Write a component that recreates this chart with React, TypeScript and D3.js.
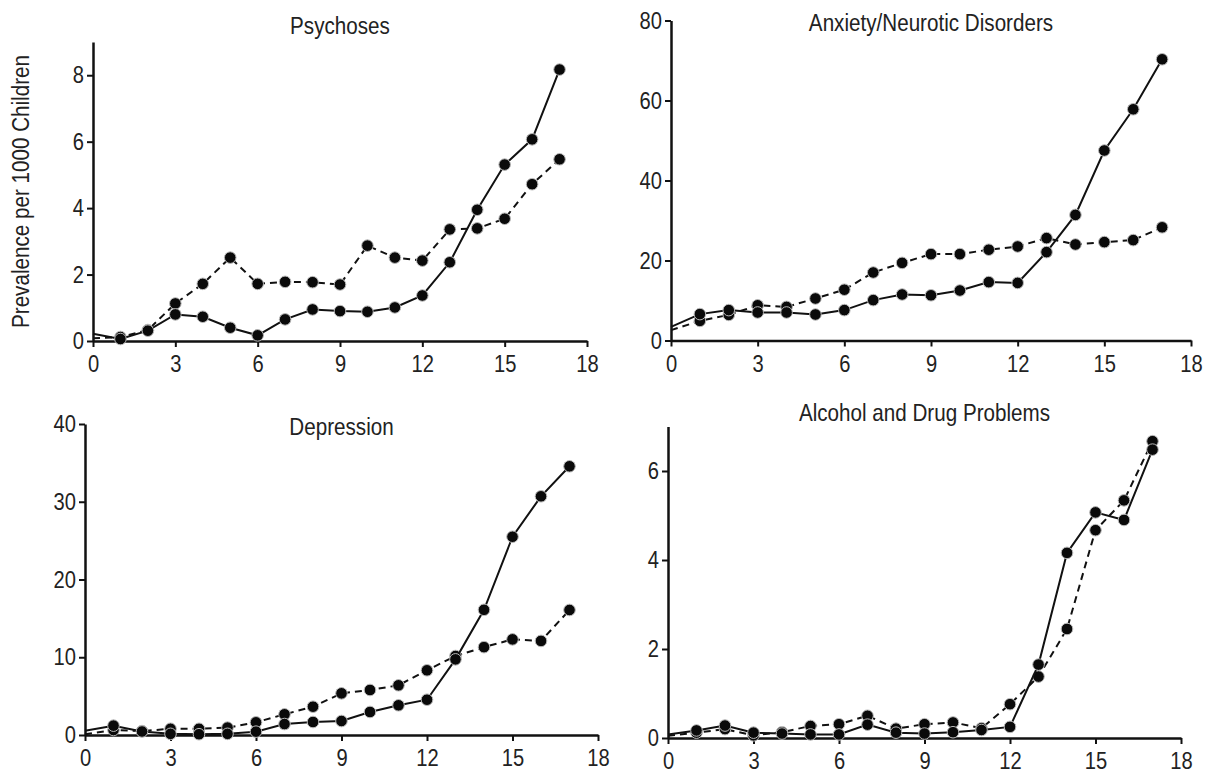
import React, { useRef, useEffect } from 'react';
import * as d3 from 'd3';

// age in years
const ages = [0, 1, 2, 3, 4, 5, 6, 7, 8, 9, 10, 11, 12, 13, 14, 15, 16, 17];
const xTicks = [0, 3, 6, 9, 12, 15, 18];

const psychosesSolid = [0.22, 0.06, 0.31, 0.8, 0.73, 0.4, 0.17, 0.65, 0.95, 0.9, 0.88, 1.01, 1.37, 2.37, 3.95, 5.31, 6.07, 8.17];
const psychosesDashed = [0.08, 0.12, 0.33, 1.13, 1.72, 2.51, 1.72, 1.78, 1.77, 1.7, 2.87, 2.51, 2.42, 3.36, 3.39, 3.68, 4.72, 5.47];
const psychosesTicks = [0, 2, 4, 6, 8];

const anxietySolid = [3.4, 6.6, 7.6, 7.0, 7.0, 6.5, 7.6, 10.1, 11.5, 11.3, 12.5, 14.6, 14.4, 22.1, 31.4, 47.5, 57.8, 70.3];
const anxietyDashed = [2.6, 4.9, 6.4, 8.8, 8.4, 10.5, 12.7, 17.0, 19.4, 21.6, 21.6, 22.7, 23.5, 25.6, 24.0, 24.6, 25.1, 28.3];
const anxietyTicks = [0, 20, 40, 60, 80];

const depressionSolid = [0.55, 1.2, 0.45, 0.15, 0.1, 0.15, 0.43, 1.41, 1.67, 1.8, 2.96, 3.82, 4.54, 9.73, 16.1, 25.5, 30.7, 34.56];
const depressionDashed = [0.1, 0.64, 0.5, 0.8, 0.8, 0.95, 1.63, 2.66, 3.64, 5.36, 5.79, 6.39, 8.32, 10.16, 11.3, 12.3, 12.1, 16.08];
const depressionTicks = [0, 10, 20, 30, 40];

const alcoholSolid = [0.08, 0.17, 0.28, 0.12, 0.1, 0.08, 0.08, 0.3, 0.12, 0.1, 0.13, 0.18, 0.25, 1.65, 4.16, 5.07, 4.9, 6.48];
const alcoholDashed = [0.05, 0.12, 0.2, 0.06, 0.13, 0.27, 0.31, 0.5, 0.21, 0.31, 0.35, 0.22, 0.76, 1.38, 2.45, 4.67, 5.34, 6.67];
const alcoholTicks = [0, 2, 4, 6];

const FONT = '"Liberation Sans", Arial, sans-serif';
const SQUEEZE = 0.84; // the original type is a condensed face

const panels = [
  { title: 'Psychoses', solid: psychosesSolid, dashed: psychosesDashed, ticks: psychosesTicks, yMax: 9,
    left: 93, right: 587, top: 42, bottom: 341, titleY: 34 },
  { title: 'Anxiety/Neurotic Disorders', solid: anxietySolid, dashed: anxietyDashed, ticks: anxietyTicks, yMax: 80,
    left: 671, right: 1191, top: 20.5, bottom: 340.5, titleY: 31 },
  { title: 'Depression', solid: depressionSolid, dashed: depressionDashed, ticks: depressionTicks, yMax: 40,
    left: 85, right: 598, top: 424, bottom: 735, titleY: 435 },
  { title: 'Alcohol and Drug Problems', solid: alcoholSolid, dashed: alcoholDashed, ticks: alcoholTicks, yMax: 7,
    left: 668, right: 1181, top: 426.5, bottom: 738, titleY: 421 },
];

const Chart = () => {
  const ref = useRef<SVGSVGElement>(null);

  useEffect(() => {
    const svg = d3.select(ref.current);
    svg.selectAll('*').remove();

    panels.forEach(p => {
      const x = d3.scaleLinear().domain([0, 18]).range([p.left, p.right]);
      const y = d3.scaleLinear().domain([0, p.yMax]).range([p.bottom, p.top]);
      const g = svg.append('g');

      const xa = g.append('g')
        .attr('transform', `translate(0,${p.bottom})`)
        .call(d3.axisBottom(x).tickValues(xTicks).tickFormat(d3.format('d')).tickSize(6).tickSizeOuter(0).tickPadding(8));
      const ya = g.append('g')
        .attr('transform', `translate(${p.left},0)`)
        .call(d3.axisLeft(y).tickValues(p.ticks).tickFormat(d3.format('d')).tickSize(6).tickSizeOuter(0).tickPadding(3));

      [xa, ya].forEach(a => {
        a.select('.domain').attr('stroke', '#111').attr('stroke-width', 2.5);
        a.selectAll('.tick line').attr('stroke', '#111').attr('stroke-width', 2);
        a.selectAll('.tick text')
          .attr('fill', '#222')
          .style('font-family', FONT)
          .style('font-size', '24px');
      });
      // condense tick labels horizontally
      xa.selectAll('.tick text').attr('transform', `scale(${SQUEEZE},1)`);
      ya.selectAll('.tick text')
        .attr('x', -9 / SQUEEZE)
        .attr('transform', `scale(${SQUEEZE},1)`);

      g.append('text')
        .attr('x', (p.left + p.right) / 2 / 0.86)
        .attr('y', p.titleY)
        .attr('transform', 'scale(0.86,1)')
        .attr('text-anchor', 'middle')
        .attr('fill', '#222')
        .style('font-family', FONT)
        .style('font-size', '24px')
        .text(p.title);

      const line = d3.line<number>()
        .x((d, i) => x(ages[i]))
        .y(d => y(d));

      [{ data: p.dashed, dash: '7,5' }, { data: p.solid, dash: null }].forEach(s => {
        g.append('path')
          .datum(s.data)
          .attr('fill', 'none')
          .attr('stroke', '#111')
          .attr('stroke-width', 2)
          .attr('stroke-dasharray', s.dash)
          .attr('d', line);

        g.selectAll(null)
          .data(s.data.slice(1))
          .join('circle')
          .attr('cx', (d, i) => x(ages[i + 1]))
          .attr('cy', d => y(d))
          .attr('r', 5.8)
          .attr('fill', '#0a0a0a')
          .attr('stroke', '#bbb')
          .attr('stroke-width', 1);
      });
    });

    svg.append('text')
      .attr('transform', `translate(21,${(42 + 341) / 2}) rotate(-90) scale(0.86,1)`)
      .attr('text-anchor', 'middle')
      .attr('dy', '0.35em')
      .attr('fill', '#222')
      .style('font-family', FONT)
      .style('font-size', '24px')
      .text('Prevalence per 1000 Children');
  }, []);

  return (
    <svg ref={ref} width={1206} height={773}
      style={{ position: 'absolute', left: 0, top: 0, background: '#fff' }} />
  );
};

export default function App() {
  return <Chart />;
}
